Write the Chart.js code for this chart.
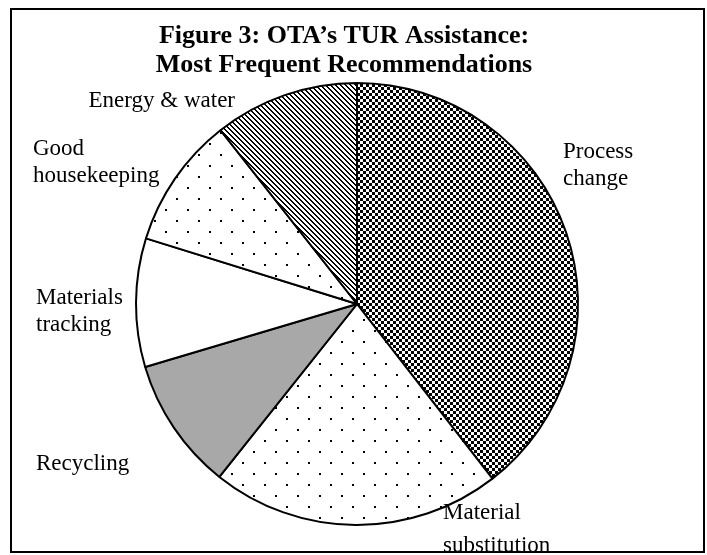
<!DOCTYPE html>
<html>
<head>
<meta charset="utf-8">
<script src="https://cdn.jsdelivr.net/npm/chart.js@4/dist/chart.umd.min.js"></script>
<style>
    html, body { margin: 0; padding: 0; background: #fff; }
    #chart { display: block; }
</style>
</head>
<body>
<canvas id="chart" width="707" height="555"></canvas>
<script>
const titleLines = ['Figure 3: OTA\u2019s TUR Assistance:', 'Most Frequent Recommendations'];
const categories = ['Process change', 'Material substitution', 'Recycling', 'Materials tracking', 'Good housekeeping', 'Energy & water'];
const shares = [39.5, 21.2, 9.7, 9.4, 9.6, 10.6];
const labelLines = [
    ['Process', 'change'],
    ['Material', 'substitution'],
    ['Recycling'],
    ['Materials', 'tracking'],
    ['Good', 'housekeeping'],
    ['Energy & water']
];

// where each slice label sits (x, first baseline, line gap, alignment)
const labelPos = [
    { x: 563, y: 158, gap: 27, align: 'left' },
    { x: 443, y: 519, gap: 33, align: 'left' },
    { x: 36, y: 470, gap: 27, align: 'left' },
    { x: 36, y: 304, gap: 27, align: 'left' },
    { x: 33, y: 155, gap: 27, align: 'left' },
    { x: 235, y: 107, gap: 27, align: 'right' }
];

function makePattern(size, drawFn) {
    const c = document.createElement('canvas');
    c.width = size;
    c.height = size;
    const g = c.getContext('2d');
    g.fillStyle = '#fff';
    g.fillRect(0, 0, size, size);
    g.fillStyle = '#000';
    drawFn(g);
    return document.getElementById('chart').getContext('2d').createPattern(c, 'repeat');
}

const checker = makePattern(6, g => {
    g.fillRect(0, 0, 3, 3);
    g.fillRect(3, 3, 3, 3);
});
const dots = makePattern(22, g => {
    g.fillRect(0, 0, 2, 2);
    g.fillRect(11, 11, 2, 2);
});
const stripes = makePattern(5, g => {
    for (let i = 0; i < 5; i++) {
        g.fillRect(i, i, 1, 1);
        g.fillRect((i + 1) % 5, i, 1, 1);
    }
});

const fills = [checker, dots, '#a8a8a8', '#ffffff', dots, stripes];

const textPlugin = {
    id: 'textPlugin',
    afterDraw(chart) {
        const ctx = chart.ctx;
        ctx.save();
        ctx.beginPath();
        ctx.rect(12, 10, 691, 541);
        ctx.clip();
        ctx.fillStyle = '#000';
        ctx.textBaseline = 'alphabetic';

        ctx.font = 'bold 26px "Liberation Serif", "Times New Roman", serif';
        ctx.textAlign = 'center';
        titleLines.forEach((t, i) => ctx.fillText(t, 344, 43 + i * 29));

        ctx.font = '23px "Liberation Serif", "Times New Roman", serif';
        labelLines.forEach((lines, i) => {
            const p = labelPos[i];
            ctx.textAlign = p.align;
            lines.forEach((t, j) => ctx.fillText(t, p.x, p.y + j * p.gap));
        });
        ctx.restore();

        // outer frame
        ctx.save();
        ctx.strokeStyle = '#000';
        ctx.lineWidth = 2;
        ctx.strokeRect(11, 9, 693, 543);
        ctx.restore();
    }
};

new Chart(document.getElementById('chart'), {
    type: 'pie',
    data: {
        labels: categories,
        datasets: [{
            data: shares,
            backgroundColor: fills,
            borderColor: '#000',
            borderWidth: 2,
            hoverOffset: 0
        }]
    },
    options: {
        responsive: false,
        animation: false,
        radius: 221,
        layout: { padding: { left: 7, right: 0, top: 60, bottom: 7 } },
        plugins: {
            legend: { display: false },
            title: { display: false },
            tooltip: { enabled: false }
        }
    },
    plugins: [textPlugin]
});
</script>
</body>
</html>
